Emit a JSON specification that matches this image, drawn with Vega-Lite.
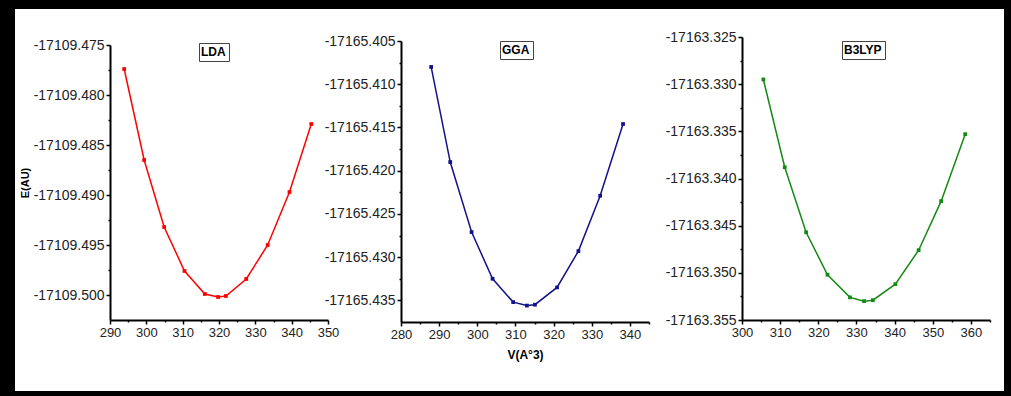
{
  "$schema": "https://vega.github.io/schema/vega-lite/v6.json",
  "background": "black",
  "padding": {"left": 15, "top": 9, "right": 7, "bottom": 5},
  "spacing": 0,
  "bounds": "flush",
  "config": {
    "view": {"fill": "white", "stroke": null},
    "axis": {"grid": false, "domainColor": "black", "domainWidth": 2, "tickColor": "black", "tickWidth": 1.5, "labelFont": "Liberation Sans", "labelColor": "#222222", "titleFont": "Liberation Sans", "titleFontWeight": "bold", "titleColor": "black", "labelFlush": false, "labelOverlap": false, "labelPadding": 2},
    "legend": {"orient": "none", "strokeColor": "#444444", "fillColor": "white", "padding": 3, "labelFont": "Liberation Sans", "labelFontWeight": "bold", "labelFontSize": 12, "labelColor": "black", "symbolType": "square", "symbolSize": 0, "symbolStrokeColor": "transparent", "symbolFillColor": "transparent", "symbolStrokeWidth": 0, "symbolOpacity": 0}
  },
  "data": {"values": [
    {"method": "LDA", "V": 293.9, "E": -17109.4774},
    {"method": "LDA", "V": 299.4, "E": -17109.4865},
    {"method": "LDA", "V": 304.9, "E": -17109.4932},
    {"method": "LDA", "V": 310.5, "E": -17109.4976},
    {"method": "LDA", "V": 316.1, "E": -17109.4999},
    {"method": "LDA", "V": 319.75, "E": -17109.5002},
    {"method": "LDA", "V": 321.9, "E": -17109.5001},
    {"method": "LDA", "V": 327.5, "E": -17109.4984},
    {"method": "LDA", "V": 333.4, "E": -17109.4950},
    {"method": "LDA", "V": 339.4, "E": -17109.4897},
    {"method": "LDA", "V": 345.4, "E": -17109.4829},
    {"method": "GGA", "V": 287.9, "E": -17165.4080},
    {"method": "GGA", "V": 292.9, "E": -17165.4190},
    {"method": "GGA", "V": 298.5, "E": -17165.4271},
    {"method": "GGA", "V": 304.0, "E": -17165.4325},
    {"method": "GGA", "V": 309.4, "E": -17165.4352},
    {"method": "GGA", "V": 313.0, "E": -17165.4356},
    {"method": "GGA", "V": 315.1, "E": -17165.4355},
    {"method": "GGA", "V": 320.9, "E": -17165.4335},
    {"method": "GGA", "V": 326.5, "E": -17165.4293},
    {"method": "GGA", "V": 332.2, "E": -17165.4229},
    {"method": "GGA", "V": 338.2, "E": -17165.4146},
    {"method": "B3LYP", "V": 305.6, "E": -17163.3295},
    {"method": "B3LYP", "V": 311.2, "E": -17163.3388},
    {"method": "B3LYP", "V": 316.8, "E": -17163.3457},
    {"method": "B3LYP", "V": 322.4, "E": -17163.3502},
    {"method": "B3LYP", "V": 328.3, "E": -17163.3526},
    {"method": "B3LYP", "V": 332.0, "E": -17163.3530},
    {"method": "B3LYP", "V": 334.3, "E": -17163.3529},
    {"method": "B3LYP", "V": 340.2, "E": -17163.3512},
    {"method": "B3LYP", "V": 346.3, "E": -17163.3476},
    {"method": "B3LYP", "V": 352.2, "E": -17163.3424},
    {"method": "B3LYP", "V": 358.5, "E": -17163.3353}
  ]},
  "resolve": {"scale": {"color": "independent"}, "legend": {"color": "independent"}},
  "hconcat": [
    {
      "width": 325, "height": 382,
      "transform": [{"filter": "datum.method === 'LDA'"}],
      "mark": {"type": "line", "strokeWidth": 1.5, "point": {"filled": true, "shape": "square", "size": 14}},
      "encoding": {
        "x": {"field": "V", "type": "quantitative",
          "scale": {"domain": [290, 350], "range": [95, 313], "nice": false, "zero": false},
          "axis": {"orient": "bottom", "offset": -71, "title": null, "values": [290,295,300,305,310,315,320,325,330,335,340,345,350], "labelExpr": "datum.value % 10 === 0 ? datum.label : ''", "tickSize": {"condition": {"test": "datum.value % 10 === 0", "value": 4}, "value": 2}, "labelFontSize": 13}},
        "y": {"field": "E", "type": "quantitative",
          "scale": {"domain": [-17109.5025, -17109.475], "range": [311, 36], "nice": false, "zero": false},
          "axis": {"orient": "left", "offset": -95, "title": "E(AU)", "titleFontSize": 11, "titlePadding": 3, "format": ".3f", "values": [-17109.5, -17109.4975, -17109.495, -17109.4925, -17109.49, -17109.4875, -17109.485, -17109.4825, -17109.48, -17109.4775, -17109.475], "labelExpr": "abs(datum.value*200 - round(datum.value*200)) < 0.01 ? replace(datum.label, '\u2212', '-') : ''", "tickSize": {"condition": {"test": "abs(datum.value*200 - round(datum.value*200)) < 0.01", "value": 4}, "value": 2}, "labelFontSize": 14}},
        "color": {"field": "method", "type": "nominal", "scale": {"range": ["#ff0000"]}, "legend": {"title": null, "symbolType": "square", "symbolSize": 0, "labelOffset": -13, "legendX": 184, "legendY": 34}}
      }
    },
    {
      "width": 325, "height": 382,
      "transform": [{"filter": "datum.method === 'GGA'"}],
      "mark": {"type": "line", "strokeWidth": 1.5, "point": {"filled": true, "shape": "square", "size": 14}},
      "encoding": {
        "x": {"field": "V", "type": "quantitative",
          "scale": {"domain": [280, 345], "range": [61, 309], "nice": false, "zero": false},
          "axis": {"orient": "bottom", "offset": -69, "title": "V(A°3)", "titleFontSize": 12, "titlePadding": 8, "values": [280,285,290,295,300,305,310,315,320,325,330,335,340,345], "labelExpr": "datum.value % 10 === 0 ? datum.label : ''", "tickSize": {"condition": {"test": "datum.value % 10 === 0", "value": 4}, "value": 2}, "labelFontSize": 13}},
        "y": {"field": "E", "type": "quantitative",
          "scale": {"domain": [-17165.4375, -17165.405], "range": [313, 32], "nice": false, "zero": false},
          "axis": {"orient": "left", "offset": -61, "title": null, "format": ".3f", "values": [-17165.435, -17165.4325, -17165.43, -17165.4275, -17165.425, -17165.4225, -17165.42, -17165.4175, -17165.415, -17165.4125, -17165.41, -17165.4075, -17165.405], "labelExpr": "abs(datum.value*200 - round(datum.value*200)) < 0.01 ? replace(datum.label, '\u2212', '-') : ''", "tickSize": {"condition": {"test": "abs(datum.value*200 - round(datum.value*200)) < 0.01", "value": 4}, "value": 2}, "labelFontSize": 14}},
        "color": {"field": "method", "type": "nominal", "scale": {"range": ["#12128a"]}, "legend": {"title": null, "symbolType": "square", "symbolSize": 0, "labelOffset": -13, "legendX": 160, "legendY": 32}}
      }
    },
    {
      "width": 339, "height": 382,
      "transform": [{"filter": "datum.method === 'B3LYP'"}],
      "mark": {"type": "line", "strokeWidth": 1.5, "point": {"filled": true, "shape": "square", "size": 14}},
      "encoding": {
        "x": {"field": "V", "type": "quantitative",
          "scale": {"domain": [300, 365], "range": [77, 325], "nice": false, "zero": false},
          "axis": {"orient": "bottom", "offset": -71, "title": null, "values": [300,305,310,315,320,325,330,335,340,345,350,355,360,365], "labelExpr": "datum.value % 10 === 0 ? datum.label : ''", "tickSize": {"condition": {"test": "datum.value % 10 === 0", "value": 4}, "value": 2}, "labelFontSize": 13}},
        "y": {"field": "E", "type": "quantitative",
          "scale": {"domain": [-17163.355, -17163.325], "range": [311, 28], "nice": false, "zero": false},
          "axis": {"orient": "left", "offset": -77, "title": null, "format": ".3f", "values": [-17163.355, -17163.3525, -17163.35, -17163.3475, -17163.345, -17163.3425, -17163.34, -17163.3375, -17163.335, -17163.3325, -17163.33, -17163.3275, -17163.325], "labelExpr": "abs(datum.value*200 - round(datum.value*200)) < 0.01 ? replace(datum.label, '\u2212', '-') : ''", "tickSize": {"condition": {"test": "abs(datum.value*200 - round(datum.value*200)) < 0.01", "value": 4}, "value": 2}, "labelFontSize": 14}},
        "color": {"field": "method", "type": "nominal", "scale": {"range": ["#138a13"]}, "legend": {"title": null, "symbolType": "square", "symbolSize": 0, "labelOffset": -13, "legendX": 177, "legendY": 32}}
      }
    }
  ]
}
